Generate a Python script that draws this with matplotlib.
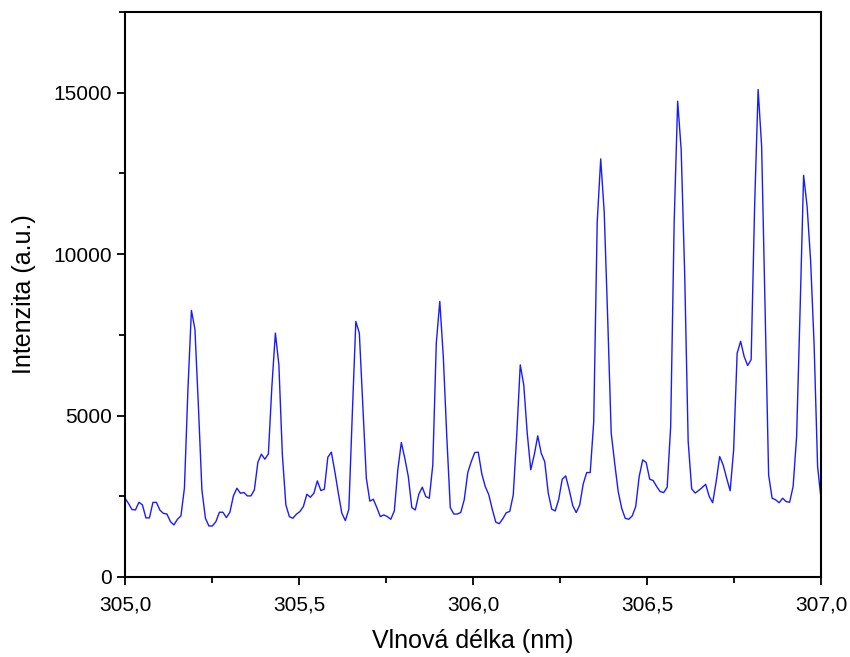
import matplotlib
matplotlib.use("Agg")
import matplotlib.pyplot as plt
from matplotlib.ticker import MultipleLocator, FuncFormatter
import numpy as np

plt.rcParams['font.family'] = ['Liberation Sans', 'DejaVu Sans']

# intensity (200 samples between 305 and 307 nm)
intensity = [
    2440, 2280, 2090, 2077, 2315, 2232, 1830, 1830, 2310, 2310,
    2070, 1970, 1950, 1715, 1612, 1788, 1891, 2749, 5800, 8256,
    7680, 5280, 2697, 1820, 1580, 1580, 1715, 2005, 2005, 1840,
    2005, 2511, 2749, 2594, 2617, 2511, 2511, 2697, 3555, 3803,
    3648, 3813, 5900, 7553, 6572, 3782, 2232, 1870, 1818, 1943,
    2025, 2180, 2563, 2470, 2594, 2977, 2677, 2718, 3710, 3865,
    3265, 2594, 1974, 1746, 2098, 5074, 7915, 7553, 5280, 3059,
    2350, 2407, 2149, 1870, 1922, 1870, 1788, 2046, 3317, 4164,
    3679, 3110, 2149, 2077, 2563, 2780, 2490, 2439, 3472, 7244,
    8535, 6830, 4350, 2150, 1950, 1950, 2000, 2400, 3234, 3575,
    3854, 3865, 3200, 2800, 2550, 2100, 1700, 1650, 1800, 1990,
    2030, 2540, 4400, 6570, 5950, 4450, 3320, 3780, 4370, 3830,
    3570, 2600, 2100, 2046, 2407, 3028, 3131, 2697, 2211, 1995,
    2232, 2883, 3234, 3234, 4800, 11000, 12948, 11300, 8000, 4454,
    3520, 2645, 2128, 1818, 1787, 1890, 2180, 3110, 3627, 3545,
    3028, 2987, 2800, 2645, 2614, 2780, 4660, 11000, 14736, 13237,
    9400, 4200, 2730, 2600, 2680, 2770, 2870, 2500, 2300, 2950,
    3730, 3470, 3060, 2670, 3940, 6930, 7300, 6830, 6550, 6730,
    11500, 15097, 13340, 8250, 3160, 2440, 2390, 2300, 2440, 2335,
    2314, 2800, 4350, 8300, 12440, 11480, 9800, 7200, 3420, 2400,
]
wavelength = np.linspace(305.0, 307.0, len(intensity))

fig = plt.figure(figsize=(8.5, 6.57), dpi=100)
ax = fig.add_axes([0.147, 0.1218, 0.819, 0.86])

ax.plot(wavelength, intensity, color='#1a1aff', lw=1.0)

ax.set_xlim(305.0, 307.0)
ax.set_ylim(0, 17500)

ax.xaxis.set_major_locator(MultipleLocator(0.5))
ax.xaxis.set_minor_locator(MultipleLocator(0.25))
ax.yaxis.set_major_locator(MultipleLocator(5000))
ax.yaxis.set_minor_locator(MultipleLocator(2500))
ax.xaxis.set_major_formatter(FuncFormatter(lambda v, p: f"{v:.1f}".replace('.', ',')))

ax.tick_params(which='both', direction='out', top=False, right=False,
               width=1.3, labelsize=15)
ax.tick_params(which='major', length=6)
ax.tick_params(which='minor', length=4)
ax.tick_params(axis='x', which='major', pad=7)
for s in ax.spines.values():
    s.set_linewidth(1.5)

ax.set_xlabel('Vlnová délka (nm)', fontsize=18, labelpad=11)
ax.set_ylabel('Intenzita (a.u.)', fontsize=18, labelpad=12)

fig.savefig('out.png', dpi=100)
